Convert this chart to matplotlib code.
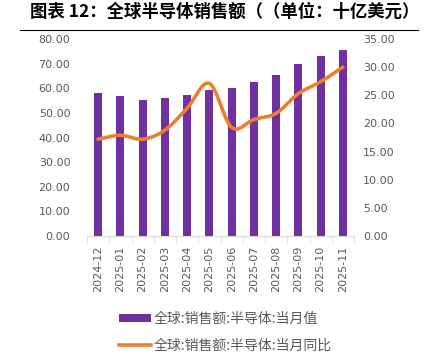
import numpy as np
import matplotlib.pyplot as plt
from matplotlib.lines import Line2D
from matplotlib.patches import Patch

plt.rcParams['font.family'] = ['Noto Sans CJK SC', 'DejaVu Sans']

months = ["2024-12", "2025-01", "2025-02", "2025-03", "2025-04", "2025-05",
          "2025-06", "2025-07", "2025-08", "2025-09", "2025-10", "2025-11"]
sales = [57.9, 56.9, 55.2, 56.0, 57.3, 59.4, 60.2, 62.5, 65.4, 69.8, 73.1, 75.5]
yoy = [17.2, 17.9, 17.2, 18.8, 22.7, 27.1, 19.3, 20.7, 21.8, 25.3, 27.4, 30.0]

BAR_LABEL = "全球:销售额:半导体:当月值"
LINE_LABEL = "全球:销售额:半导体:当月同比"
PURPLE = "#7030A0"
ORANGE = "#ED7D31"
GREY = "#595959"
NUM_FONT = 'DejaVu Sans'


def smooth(x, y, n=20):
    # catmull-rom curve through the points, like excel's smoothed line
    x = np.asarray(x, float)
    y = np.asarray(y, float)
    px = np.concatenate([[2 * x[0] - x[1]], x, [2 * x[-1] - x[-2]]])
    py = np.concatenate([[2 * y[0] - y[1]], y, [2 * y[-1] - y[-2]]])
    xs, ys = [], []
    t = np.linspace(0, 1, n, endpoint=False)
    for i in range(1, len(px) - 2):
        for arr, out in ((px, xs), (py, ys)):
            p0, p1, p2, p3 = arr[i - 1], arr[i], arr[i + 1], arr[i + 2]
            out.extend(0.5 * (2 * p1 + (-p0 + p2) * t
                              + (2 * p0 - 5 * p1 + 4 * p2 - p3) * t ** 2
                              + (-p0 + 3 * p1 - 3 * p2 + p3) * t ** 3))
    xs.append(x[-1])
    ys.append(y[-1])
    return np.array(xs), np.array(ys)


fig = plt.figure(figsize=(4.29, 3.6), dpi=100)
ax = fig.add_axes([87 / 429, 1 - 236 / 360, 267 / 429, 197 / 360])
x = np.arange(len(months))
ax.bar(x, sales, width=0.36, color=PURPLE, zorder=2)
ax.set_xlim(-0.5, len(months) - 0.5)
ax.set_ylim(0, 80)
ax.set_yticks(np.arange(0, 81, 10))
ax.set_yticklabels([f"{v:.2f}" for v in np.arange(0, 81, 10)], family=NUM_FONT)
ax.set_xticks(x)
ax.set_xticklabels(months, rotation=90, family=NUM_FONT)
ax.set_xticks(np.arange(-0.5, len(months), 1), minor=True)
ax.tick_params(axis='x', which='major', length=0, pad=7, labelsize=8, labelcolor=GREY)
ax.tick_params(axis='x', which='minor', length=5, color="#d9d9d9")
ax.tick_params(axis='y', length=0, pad=12, labelsize=8, labelcolor=GREY)
for s in ['left', 'right', 'top']:
    ax.spines[s].set_visible(False)
ax.spines['bottom'].set_color("#d9d9d9")

ax2 = ax.twinx()
sx, sy = smooth(x, yoy)
ax2.plot(sx, sy, color=ORANGE, lw=2.6, solid_capstyle='round', zorder=3)
ax2.set_ylim(0, 35)
ax2.set_yticks(np.arange(0, 36, 5))
ax2.set_yticklabels([f"{v:.2f}" for v in np.arange(0, 36, 5)], family=NUM_FONT)
ax2.tick_params(axis='y', length=0, pad=6.5, labelsize=8, labelcolor=GREY)
for s in ['left', 'right', 'top', 'bottom']:
    ax2.spines[s].set_visible(False)

handles = [Patch(facecolor=PURPLE, label=BAR_LABEL),
           Line2D([0], [0], color=ORANGE, lw=2.6, label=LINE_LABEL)]
leg = fig.legend(handles=handles, loc='upper left', bbox_to_anchor=(112 / 429, 1 - 305 / 360),
                 ncol=1, frameon=False, fontsize=10, labelcolor=GREY,
                 handlelength=2.3, handleheight=0.6, handletextpad=0.2,
                 labelspacing=0.95, borderpad=0)

fig.text(30 / 429, 1 - 12 / 360, "图表 12：全球半导体销售额（（单位：十亿美元）",
         fontsize=12.5, fontweight='bold', va='center', ha='left')
fig.add_artist(Line2D([20 / 429, 418 / 429], [1 - 30 / 360, 1 - 30 / 360],
                      color='black', lw=0.8))

fig.savefig("out.png", dpi=100)
